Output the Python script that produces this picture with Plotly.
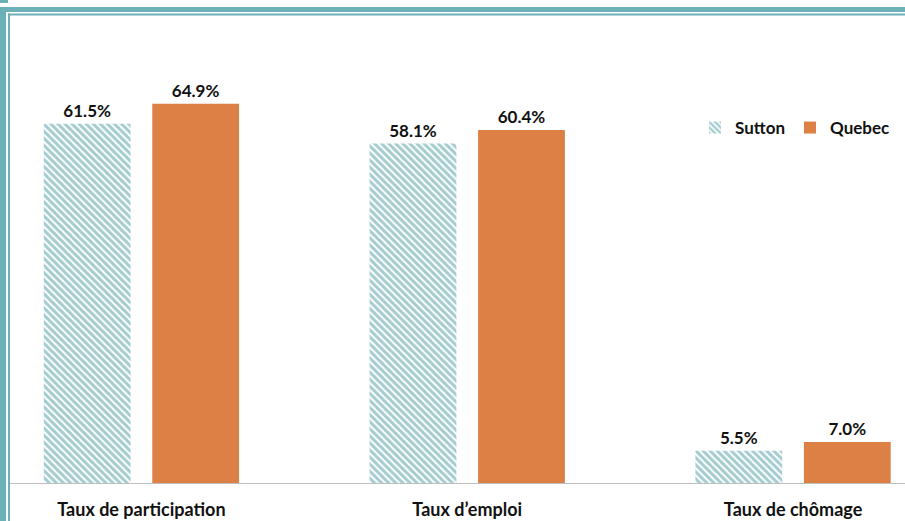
import plotly.graph_objects as go

categories = ["Taux de participation", "Taux d\u2019emploi", "Taux de chômage"]
sutton = [61.5, 58.1, 5.5]
quebec = [64.9, 60.4, 7.0]
series_names = ["Sutton", "Quebec"]

W, H = 905, 521
L, R, T, B = 8, 0, 74, 38
PW, PH = W - L - R, H - T - B

def px_x(x):
    return (x - L) / PW

def px_y(y):
    return (H - B - y) / PH

teal = "#6cb0b8"
stripe = "#4a9aa2"
orange = "#dc8046"
font_family = "Lato, 'Open Sans', sans-serif"

fig = go.Figure()
fig.add_trace(go.Bar(
    x=categories, y=sutton, name=series_names[0],
    marker=dict(color="white", line=dict(width=0),
                pattern=dict(shape="\\", fgcolor=stripe, bgcolor="white", size=5, solidity=0.6)),
    text=[f"{v:.1f}%" for v in sutton], textposition="outside",
    textfont=dict(size=17, color="#111111", family=font_family, weight="bold"),
    cliponaxis=False,
))
fig.add_trace(go.Bar(
    x=categories, y=quebec, name=series_names[1],
    marker=dict(color=orange, line=dict(width=0)),
    text=[f"{v:.1f}%" for v in quebec], textposition="outside",
    textfont=dict(size=17, color="#111111", family=font_family, weight="bold"),
    cliponaxis=False,
))

shapes = []
# decorative frame
shapes.append(dict(type="rect", xref="paper", yref="paper", x0=px_x(5), x1=px_x(W + 5), y0=px_y(12), y1=px_y(7),
                   fillcolor=teal, line=dict(width=0), layer="above"))
shapes.append(dict(type="rect", xref="paper", yref="paper", x0=px_x(8), x1=px_x(W + 5), y0=px_y(15.5), y1=px_y(13.5),
                   fillcolor=teal, line=dict(width=0), layer="above"))
shapes.append(dict(type="rect", xref="paper", yref="paper", x0=px_x(0), x1=px_x(6), y0=px_y(H + 5), y1=px_y(7),
                   fillcolor=teal, line=dict(width=0), layer="above"))
shapes.append(dict(type="rect", xref="paper", yref="paper", x0=px_x(8), x1=px_x(10), y0=px_y(H + 5), y1=px_y(13.5),
                   fillcolor=teal, line=dict(width=0), layer="above"))
shapes.append(dict(type="rect", xref="paper", yref="paper", x0=px_x(0), x1=px_x(8), y0=px_y(3), y1=px_y(0),
                   fillcolor=teal, line=dict(width=0), layer="above"))

fig.update_layout(
    width=W, height=H,
    margin=dict(l=L, r=R, t=T, b=B, pad=0, autoexpand=False),
    paper_bgcolor="white", plot_bgcolor="white",
    barmode="group", bargap=0.334, bargroupgap=0.2,
    font=dict(family=font_family, color="#111111"),
    showlegend=True,
    legend=dict(orientation="h", x=px_x(695), y=px_y(128), xanchor="left", yanchor="middle",
                font=dict(size=17, color="#111111", family=font_family, weight="bold"),
                itemwidth=30, tracegroupgap=0, bgcolor="rgba(0,0,0,0)"),
    xaxis=dict(range=[-(141.5 - 8) / 326, 2 + (905 - 793) / 326], showline=True, linecolor="#bfbfbf",
               linewidth=1, showgrid=False, ticks="", zeroline=False, ticklabelstandoff=10,
               tickfont=dict(size=18, color="#111111", family=font_family, weight="bold")),
    yaxis=dict(range=[0, 70], visible=False, showgrid=False, zeroline=False),
    shapes=shapes,
)

fig.write_html("out.html")
